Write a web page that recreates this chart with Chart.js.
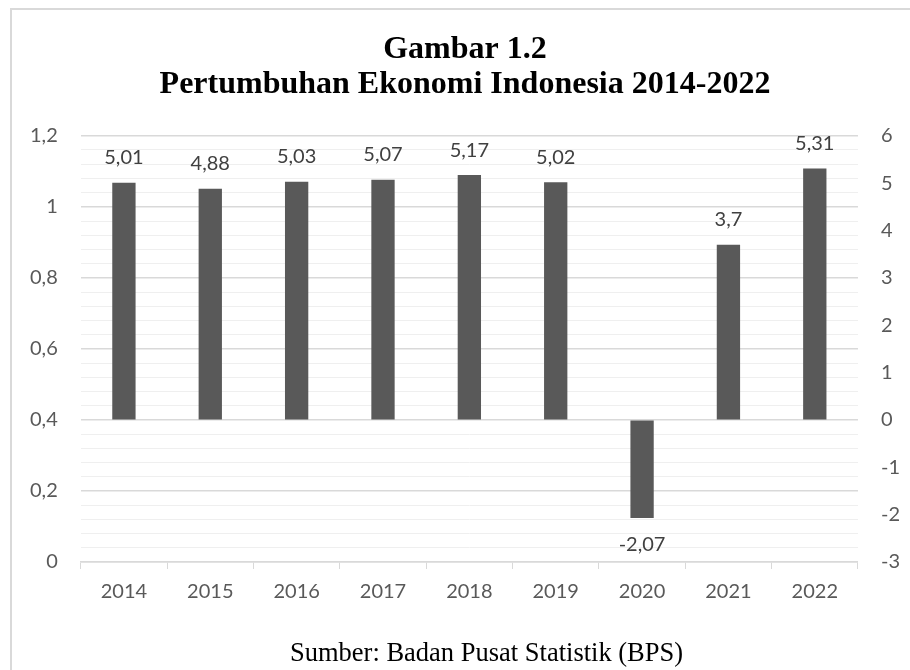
<!DOCTYPE html>
<html>
    <head>
        <title>Pertumbuhan Ekonomi Indonesia 2014-2022</title>
        <script src="https://cdn.jsdelivr.net/npm/chart.js@4/dist/chart.umd.min.js"></script>
    </head>
    <style>
        body {
            margin: 0;
            overflow: hidden;
            background: white;
        }
        #frame {
            position: absolute;
            left: 10px;
            top: 8px;
            width: 1000px;
            height: 1000px;
            border: 2px solid #d9d9d9;
        }
        #wrap {
            position: absolute;
            left: 0;
            top: 0;
            width: 910px;
            height: 670px;
        }
        #source {
            position: absolute;
            left: 290px;
            top: 639px;
            font: 26.5px "Liberation Serif";
            line-height: 1;
            color: #000;
            white-space: nowrap;
        }
    </style>
    <body>
        <div id="frame"></div>
        <div id="wrap"><canvas id="growthChart"></canvas></div>
        <div id="source">Sumber: Badan Pusat Statistik (BPS)</div>
        <script>
        const years = ["2014", "2015", "2016", "2017", "2018", "2019", "2020", "2021", "2022"];
        const growth = [5.01, 4.88, 5.03, 5.07, 5.17, 5.02, -2.07, 3.7, 5.31];
        const leftTicks = [0, 0.2, 0.4, 0.6, 0.8, 1, 1.2];
        const rightTicks = [-3, -2, -1, 0, 1, 2, 3, 4, 5, 6];

        const tickFont = { family: "Lato", size: 20 };
        const comma = v => String(v).replace('.', ',');
        const isMajor = v => leftTicks.some(t => Math.abs(t - v) < 1e-6);

        // label angka di atas / bawah batang
        const valueLabels = {
            id: 'valueLabels',
            afterDatasetsDraw(chart) {
                const ctx = chart.ctx;
                const meta = chart.getDatasetMeta(0);
                ctx.save();
                ctx.font = "20px Lato";
                ctx.fillStyle = "#404040";
                ctx.textAlign = "center";
                ctx.textBaseline = "middle";
                meta.data.forEach((bar, i) => {
                    const v = growth[i];
                    const y = v >= 0 ? bar.y - 25 : bar.y + 27;
                    ctx.fillText(comma(v), bar.x, y);
                });
                ctx.restore();
            }
        };

        document.addEventListener("DOMContentLoaded", function () {
            const ctx = document.getElementById('growthChart').getContext('2d');
            new Chart(ctx, {
                type: 'bar',
                data: {
                    labels: years,
                    datasets: [{
                        data: growth,
                        yAxisID: 'y1',
                        backgroundColor: '#595959',
                        borderWidth: 0,
                        barPercentage: 0.27,
                        categoryPercentage: 1
                    }]
                },
                options: {
                    responsive: true,
                    maintainAspectRatio: false,
                    animation: false,
                    layout: { padding: { left: 30, right: 10, top: 0, bottom: 55 } },
                    plugins: {
                        legend: { display: false },
                        tooltip: { enabled: false },
                        title: {
                            display: true,
                            text: ["Gambar 1.2", "Pertumbuhan Ekonomi Indonesia 2014-2022"],
                            color: '#000',
                            font: { family: "Liberation Serif", size: 32, weight: 'bold', lineHeight: 1.09 },
                            padding: { top: 32, bottom: 34 }
                        }
                    },
                    scales: {
                        x: {
                            grid: {
                                offset: true,
                                drawOnChartArea: false,
                                tickLength: 7,
                                color: '#d9d9d9'
                            },
                            border: { color: '#d9d9d9', width: 1.5 },
                            ticks: { color: '#595959', font: tickFont, padding: 11 }
                        },
                        y: {
                            position: 'left',
                            min: 0,
                            max: 1.2,
                            border: { display: false },
                            grid: {
                                tickLength: 23,
                                tickColor: 'transparent',
                                color: c => isMajor(c.tick.value) ? '#d9d9d9' : '#efefef',
                                lineWidth: c => isMajor(c.tick.value) ? 1.5 : 1
                            },
                            ticks: {
                                stepSize: 0.04,
                                autoSkip: false,
                                color: '#595959',
                                font: tickFont,
                                padding: 0,
                                callback: v => isMajor(v) ? comma(Math.round(v * 10) / 10) : ''
                            }
                        },
                        y1: {
                            position: 'right',
                            min: -3,
                            max: 6,
                            border: { display: false },
                            grid: { drawOnChartArea: false, tickLength: 23, tickColor: 'transparent' },
                            ticks: {
                                stepSize: 1,
                                color: '#595959',
                                font: tickFont,
                                padding: 0,
                                callback: v => rightTicks.includes(v) ? comma(v) : ''
                            }
                        }
                    }
                },
                plugins: [valueLabels]
            });
        });
        </script>
    </body>
</html>
